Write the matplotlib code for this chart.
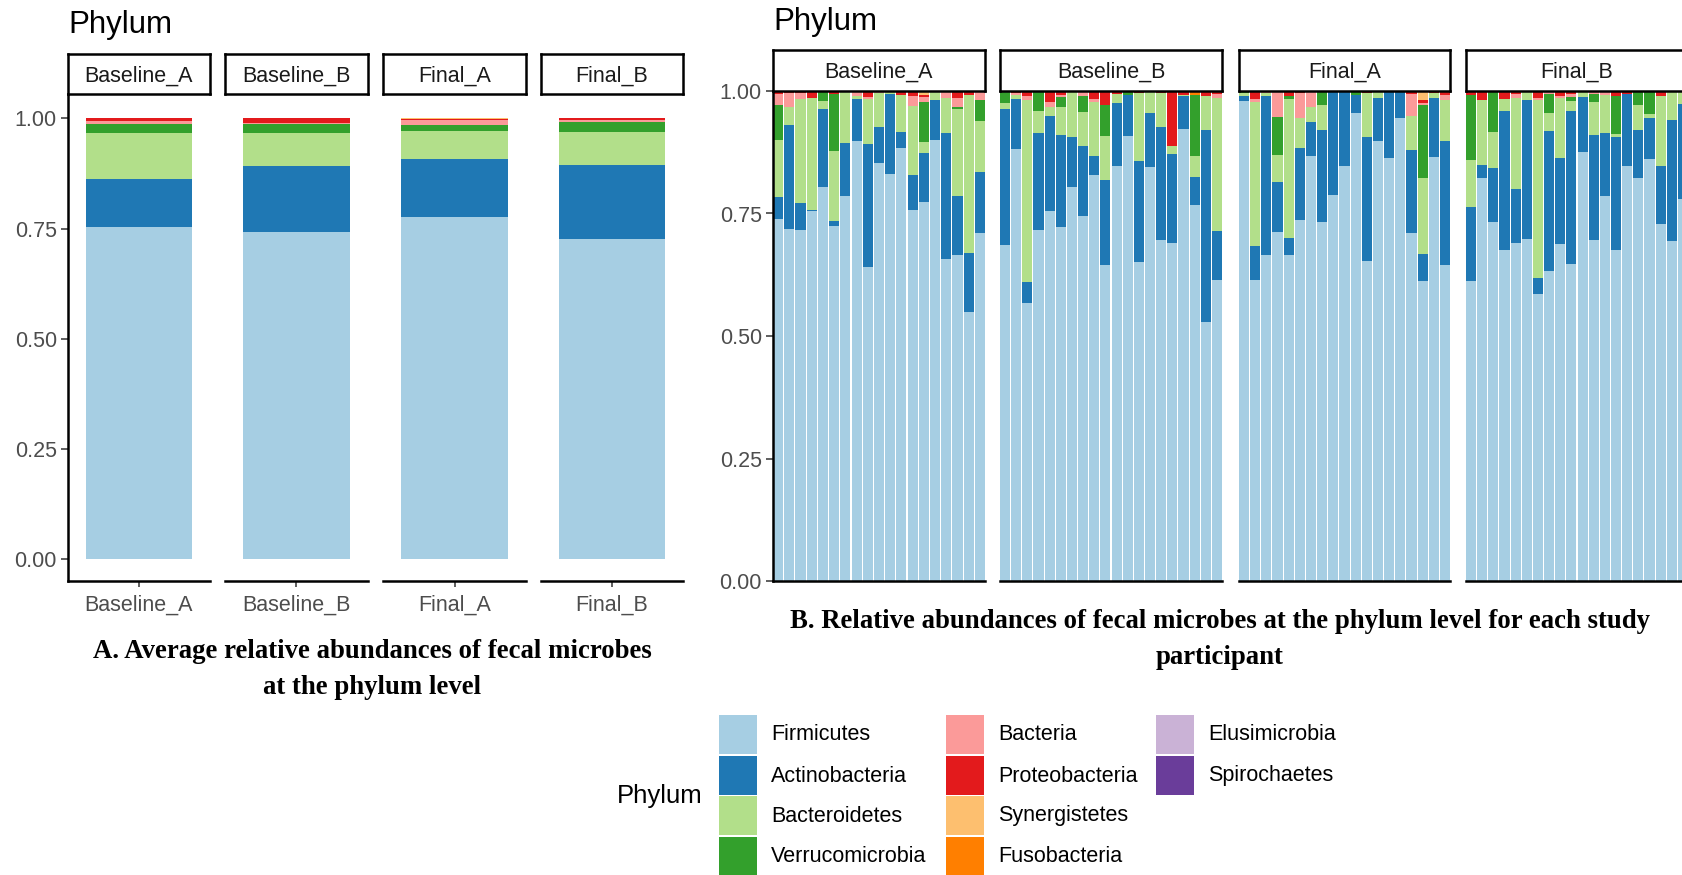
import numpy as np
import matplotlib.pyplot as plt
from matplotlib.patches import Rectangle

plt.rcParams['font.family'] = ['Liberation Sans', 'DejaVu Sans']

# phyla in stacking order (bottom -> top) and their colours
phyla = ['Firmicutes', 'Actinobacteria', 'Bacteroidetes', 'Verrucomicrobia',
         'Bacteria', 'Proteobacteria', 'Synergistetes', 'Fusobacteria',
         'Elusimicrobia', 'Spirochaetes']
colors = ['#A6CEE3', '#1F78B4', '#B2DF8A', '#33A02C', '#FB9A99',
          '#E31A1C', '#FDBF6F', '#FF7F00', '#CAB2D6', '#6A3D9A']
groups = ['Baseline_A', 'Baseline_B', 'Final_A', 'Final_B']

# panel A: average relative abundance per group
avg_firmicutes = [0.754, 0.742, 0.777, 0.727]
avg_actino = [0.109, 0.149, 0.130, 0.168]
avg_bacteroid = [0.103, 0.0765, 0.063, 0.074]
avg_verruco = [0.020, 0.019, 0.015, 0.023]
avg_bacteria = [0.008, 0.003, 0.011, 0.003]
avg_proteo = [0.006, 0.0105, 0.003, 0.005]
avg_syn = [0.0, 0.0, 0.001, 0.0]

# panel B: each participant
ba_firmicutes = [.738, .718, .716, .756, .805, .725, .786, .897, .640, .854, .830, .883, .757, .774, .900, .657, .665, .548, .710]
ba_actino = [.045, .213, .056, .001, .158, .010, .107, .086, .252, .072, .164, .034, .072, .100, .081, .258, .120, .122, .124]
ba_bacteroid = [.117, .037, .211, .228, .017, .143, .104, .006, .092, .070, .006, .075, .141, .021, .019, .070, .178, .322, .104]
ba_verruco = [.072, 0, 0, 0, .019, .116, 0, 0, 0, 0, 0, 0, 0, .082, 0, 0, .005, 0, .043]
ba_bacteria = [.022, .028, .013, 0, 0, 0, 0, .011, .003, .004, 0, 0, .019, .010, 0, .015, .017, 0, .019]
ba_proteo = [.006, .004, .004, .012, .001, .006, .003, 0, .013, 0, 0, .008, .011, .004, 0, 0, .015, .008, 0]
ba_syn = [0, 0, 0, 0, 0, 0, 0, 0, 0, 0, 0, 0, 0, .009, 0, 0, 0, 0, 0]
ba_fuso = [0, 0, 0, .003, 0, 0, 0, 0, 0, 0, 0, 0, 0, 0, 0, 0, 0, 0, 0]

bb_firmicutes = [.686, .881, .568, .716, .755, .723, .804, .745, .829, .645, .847, .908, .652, .845, .695, .689, .922, .767, .529, .614]
bb_actino = [.277, .102, .043, .198, .194, .187, .102, .143, .039, .174, .128, .084, .205, .111, .231, .183, .067, .057, .392, .101]
bb_bacteroid = [.012, .009, .371, .046, .019, .058, .091, .070, .109, .089, .019, 0, .139, .044, .070, .016, .003, .044, .068, .270]
bb_verruco = [.025, 0, 0, .040, 0, .019, 0, .032, 0, .064, 0, .008, 0, 0, 0, 0, 0, .124, 0, 0]
bb_bacteria = [0, .004, .007, 0, .009, .005, 0, .010, .006, 0, 0, 0, 0, 0, 0, 0, 0, 0, 0, .009]
bb_proteo = [0, .004, .011, 0, .023, .008, .003, 0, .017, .028, .006, 0, .004, 0, .004, .112, .008, 0, .011, .006]
bb_syn = [0] * 20
bb_fuso = [0, 0, 0, 0, 0, 0, 0, 0, 0, 0, 0, 0, 0, 0, 0, 0, 0, .008, 0, 0]

fa_firmicutes = [.979, .614, .665, .713, .665, .737, .868, .733, .788, .847, .956, .654, .898, .863, .945, .711, .613, .865, .644]
fa_actino = [.011, .070, .325, .102, .036, .146, .068, .188, .212, .150, .036, .253, .087, .137, .055, .168, .054, .120, .253]
fa_bacteroid = [.006, .293, .006, .055, .282, .062, .031, .051, 0, 0, 0, .089, .015, 0, 0, .070, .155, .011, .084]
fa_verruco = [.004, 0, 0, .077, .006, 0, 0, .025, 0, 0, .008, 0, 0, 0, 0, 0, .150, 0, 0]
fa_bacteria = [0, .006, .004, .053, 0, .051, .033, 0, 0, 0, 0, 0, 0, 0, 0, .045, .003, 0, .011]
fa_proteo = [0, .017, 0, 0, .011, .004, 0, .003, 0, .003, 0, .004, 0, 0, 0, .006, .006, .004, .008]
fa_syn = [0, 0, 0, 0, 0, 0, 0, 0, 0, 0, 0, 0, 0, 0, 0, 0, .019, 0, 0]
fa_fuso = [0] * 19

fb_firmicutes = [.613, .822, .733, .676, .690, .697, .585, .633, .688, .646, .876, .695, .785, .676, .846, .822, .861, .729, .693, .779]
fb_actino = [.150, .027, .109, .284, .109, .285, .033, .286, .176, .314, .111, .215, .129, .230, .148, .099, .084, .118, .247, .195]
fb_bacteroid = [.096, .133, .075, .023, .186, .018, .363, .036, .121, .019, .013, .067, .078, .007, 0, .051, .008, .142, .057, .026]
fb_verruco = [.133, 0, .083, 0, 0, 0, 0, .039, 0, .008, 0, .017, 0, .077, 0, .028, .044, 0, 0, 0]
fb_bacteria = [0, 0, 0, 0, .009, 0, .004, .006, .005, .007, 0, .003, .008, 0, 0, 0, 0, 0, 0, 0]
fb_proteo = [.008, .018, 0, .017, .006, 0, .015, 0, .010, .006, 0, .003, 0, .010, .006, 0, .003, .011, .003, 0]
fb_syn = [0] * 20
fb_fuso = [0] * 20

avg_series = [avg_firmicutes, avg_actino, avg_bacteroid, avg_verruco,
              avg_bacteria, avg_proteo, avg_syn]
part_series = {
    'Baseline_A': [ba_firmicutes, ba_actino, ba_bacteroid, ba_verruco, ba_bacteria, ba_proteo, ba_syn, ba_fuso],
    'Baseline_B': [bb_firmicutes, bb_actino, bb_bacteroid, bb_verruco, bb_bacteria, bb_proteo, bb_syn, bb_fuso],
    'Final_A': [fa_firmicutes, fa_actino, fa_bacteroid, fa_verruco, fa_bacteria, fa_proteo, fa_syn, fa_fuso],
    'Final_B': [fb_firmicutes, fb_actino, fb_bacteroid, fb_verruco, fb_bacteria, fb_proteo, fb_syn, fb_fuso],
}

W, H = 1683, 875
fig = plt.figure(figsize=(W / 100, H / 100), dpi=100)

AXLW = 1.8
TICK_COL = '#4D4D4D'


def px_axes(x0, y0, x1, y1):
    return fig.add_axes([x0 / W, 1 - y1 / H, (x1 - x0) / W, (y1 - y0) / H])


def strip(x0, y0, x1, y1, label):
    s = px_axes(x0, y0, x1, y1)
    s.set_xticks([])
    s.set_yticks([])
    for sp in s.spines.values():
        sp.set_linewidth(AXLW)
        sp.set_color('black')
    s.text(0.5, 0.45, label, ha='center', va='center', fontsize=15.5,
           color='#1A1A1A', transform=s.transAxes)


def style_panel(ax, first):
    for side in ['top', 'right']:
        ax.spines[side].set_visible(False)
    ax.spines['bottom'].set_linewidth(AXLW)
    ax.spines['left'].set_linewidth(AXLW)
    ax.spines['left'].set_visible(first)
    ax.set_yticks([0, 0.25, 0.5, 0.75, 1.0])
    ax.tick_params(axis='y', length=5, width=1.1, color='#333333',
                   labelsize=15.5, labelcolor=TICK_COL, pad=3)
    if first:
        ax.set_yticklabels(['0.00', '0.25', '0.50', '0.75', '1.00'])
    else:
        ax.tick_params(axis='y', left=False, labelleft=False)


# ---- panel A ----
a_cols = [(68, 210), (225, 368), (383, 526), (541, 683)]
for i, g in enumerate(groups):
    x0, x1 = a_cols[i]
    ax = px_axes(x0, 94, x1, 581)
    bottom = 0.0
    for k, ser in enumerate(avg_series):
        ax.bar([0], [ser[i]], bottom=bottom, width=0.9, color=colors[k], linewidth=0)
        bottom += ser[i]
    ax.set_xlim(-0.6, 0.6)
    ax.set_ylim(-0.049, 1.055)
    style_panel(ax, i == 0)
    ax.set_xticks([0])
    ax.set_xticklabels([g])
    ax.tick_params(axis='x', length=4, width=1.1, color='#333333',
                   labelsize=15.5, labelcolor=TICK_COL, pad=6)
    strip(x0, 54, x1, 94, g)

fig.text(68 / W, 1 - 25 / H, 'Phylum', fontsize=22.5, va='center', ha='left')

# ---- panel B ----
b_cols = [(773, 985), (1000, 1222), (1239, 1450), (1466, 1688)]
for i, g in enumerate(groups):
    x0, x1 = b_cols[i]
    ax = px_axes(x0, 91, x1, 581)
    series = part_series[g]
    n = len(series[0])
    xs = np.arange(n)
    bottom = np.zeros(n)
    for k, ser in enumerate(series):
        vals = np.array(ser, dtype=float)
        ax.bar(xs, vals, bottom=bottom, width=0.9, color=colors[k], linewidth=0)
        bottom += vals
    ax.set_xlim(-0.45, n - 0.55)
    ax.set_ylim(0, 1)
    style_panel(ax, i == 0)
    ax.set_xticks([])
    strip(x0, 50, x1, 91, g)

fig.text(773 / W, 1 - 22 / H, 'Phylum', fontsize=22.5, va='center', ha='left')

# ---- captions ----
cap = dict(family=['Liberation Serif', 'DejaVu Serif'], weight='bold', fontsize=19.3,
           ha='center', va='center')
fig.text(372 / W, 1 - 652 / H, 'A. Average relative abundances of fecal microbes', **cap)
fig.text(372 / W, 1 - 687 / H, 'at the phylum level', **cap)
fig.text(1220 / W, 1 - 622 / H, 'B. Relative abundances of fecal microbes at the phylum level for each study', **cap)
fig.text(1220 / W, 1 - 657 / H, 'participant', **cap)

# ---- legend ----
lg = fig.add_axes([0, 0, 1, 1], zorder=-1)
lg.set_xlim(0, W)
lg.set_ylim(H, 0)
lg.axis('off')
lg.text(617, 796, 'Phylum', fontsize=18.5, ha='left', va='center')
col_x = [719, 946, 1156]
row_y = [715, 756, 796, 837]
for idx, (name, c) in enumerate(zip(phyla, colors)):
    cx = col_x[idx // 4]
    ry = row_y[idx % 4]
    lg.add_patch(Rectangle((cx, ry), 38, 38.5, facecolor=c, edgecolor='none'))
    lg.text(cx + 52, ry + 20, name, fontsize=15.5, ha='left', va='center')

fig.savefig('out.png', dpi=100)
